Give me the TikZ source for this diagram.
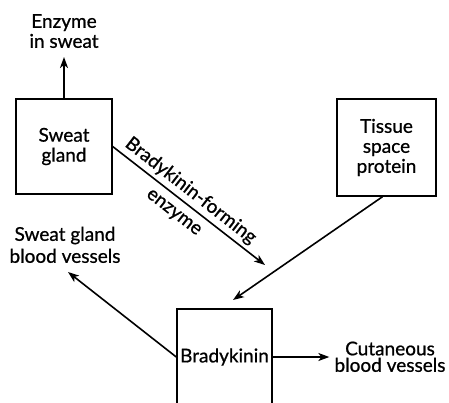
\documentclass[tikz,border=0pt]{standalone}
\usepackage{fontspec}
\setmainfont{Lato}
\newfontfamily\diagfont{Lato}[FakeBold=0.8]
\usetikzlibrary{arrows.meta, positioning}
\tikzset{
  % riquadri
  box/.style={draw, line width=1.4pt, minimum width=96pt, minimum height=95pt, align=center, inner sep=2pt},
  % testi liberi
  lbl/.style={align=center, inner sep=0pt, text depth=0pt},
  % frecce
  conn arrow/.style={-{Stealth[length=11pt,width=8pt,inset=3pt]}, line width=1.6pt}
}
\begin{document}
\begin{tikzpicture}[x=1pt, y=-1pt, font=\diagfont\fontsize{19}{20}\selectfont]
  \useasboundingbox (0,0) rectangle (449,402);
  \node[box] (sg) at (64,146.5) {Sweat\\gland};
  \node[box, minimum width=99pt, minimum height=97pt] (ts) at (386.5,147.5) {Tissue\\space\\protein};
  \node[box, minimum width=95pt, minimum height=96pt, inner sep=0pt] (bk) at (224.5,357) {Bradykinin};
  \node[lbl, anchor=south] (enz) at (64,48) {Enzyme\\in sweat};
  \node[lbl, anchor=south] (sgbv) at (65,263) {Sweat gland\\[2pt]blood vessels};
  \node[lbl, anchor=south] (cbv) at (390,372) {Cutaneous\\[-3.5pt]blood vessels};
  \coordinate (bfe) at (265,265);
  \coordinate (tse) at (233,300);
  \coordinate (sgbve) at (68,272);

  \draw[conn arrow, shorten >=9pt] (sg.north) -- (enz.south);
  \draw[conn arrow] (sg.east) -- (bfe)
    node[pos=0.46, sloped, above] {Bradykinin-forming}
    node[pos=0.46, sloped, below=5pt] {enzyme};
  \draw[conn arrow] ([xshift=-4pt]ts.south) -- (tse);
  \draw[conn arrow, shorten >=5pt] (bk.east) -- (bk.east -| cbv.west);
  \draw[conn arrow] (bk.west) -- (sgbve);
\end{tikzpicture}
\end{document}
